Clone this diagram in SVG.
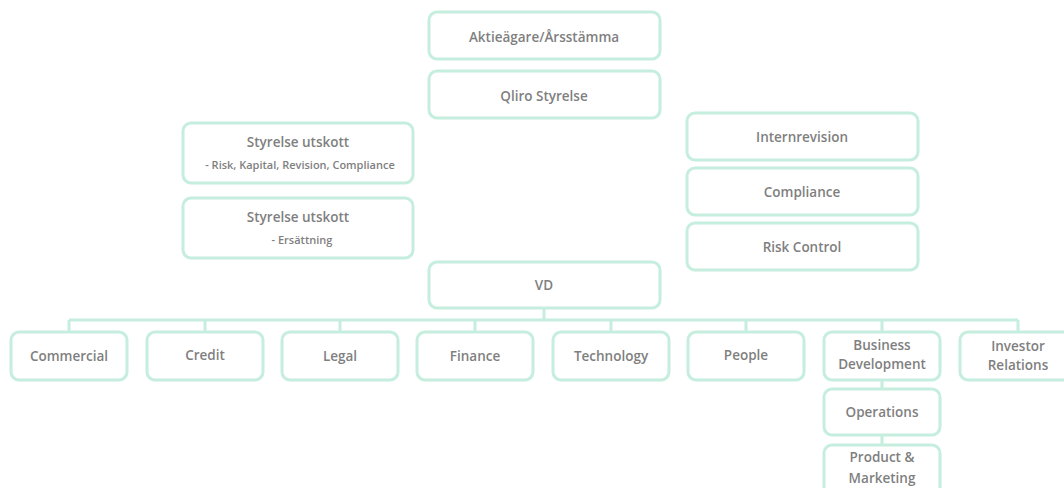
<svg xmlns="http://www.w3.org/2000/svg" width="1064" height="488" viewBox="0 0 1064 488">
<style>
.b{fill:#fff;stroke:#c6eedf;stroke-width:3}
.c{fill:none;stroke:#c6eedf;stroke-width:3}
text{font-family:"Open Sans","Liberation Sans",sans-serif;font-weight:600;fill:#7f7f7f;text-anchor:middle;font-size:13.5px}
.s{font-size:11px}
</style>
<rect width="1064" height="488" fill="#fff"/>
<g id="connectors">
<path class="c" d="M544 308V320M69 320H1018M69 320V332M205 320V332M340 320V332M475 320V332M611 320V332M746 320V332M882 320V332M1018 320V332M882 380V389M882 435V445"/>
</g>
<g id="n-aktie"><rect class="b" x="429" y="12" width="231" height="47" rx="8"/><text x="544" y="42">Aktieägare/Årsstämma</text></g>
<g id="n-qliro"><rect class="b" x="429" y="71" width="231" height="47" rx="8"/><text x="544" y="101">Qliro Styrelse</text></g>
<g id="n-utskott1"><rect class="b" x="183" y="123" width="230" height="60" rx="8"/><text x="298" y="147">Styrelse utskott</text><text class="s" x="300" y="169">- Risk, Kapital,  Revision, Compliance</text></g>
<g id="n-utskott2"><rect class="b" x="183" y="198" width="230" height="60" rx="8"/><text x="298" y="222">Styrelse utskott</text><text class="s" x="302" y="244">- Ersättning</text></g>
<g id="n-internrevision"><rect class="b" x="687" y="113" width="231" height="47" rx="8"/><text x="802" y="142">Internrevision</text></g>
<g id="n-compliance"><rect class="b" x="687" y="168" width="231" height="47" rx="8"/><text x="802" y="197">Compliance</text></g>
<g id="n-risk"><rect class="b" x="687" y="223" width="231" height="47" rx="8"/><text x="802" y="252">Risk Control</text></g>
<g id="n-vd"><rect class="b" x="429" y="262" width="231" height="46" rx="8"/><text x="544" y="290">VD</text></g>
<g id="n-commercial"><rect class="b" x="11" y="332" width="116" height="48" rx="8"/><text x="69" y="361">Commercial</text></g>
<g id="n-credit"><rect class="b" x="147" y="332" width="116" height="48" rx="8"/><text x="205" y="360">Credit</text></g>
<g id="n-legal"><rect class="b" x="282" y="332" width="116" height="48" rx="8"/><text x="340" y="361">Legal</text></g>
<g id="n-finance"><rect class="b" x="417" y="332" width="116" height="48" rx="8"/><text x="475" y="361">Finance</text></g>
<g id="n-technology"><rect class="b" x="553" y="332" width="116" height="48" rx="8"/><text x="611" y="361">Technology</text></g>
<g id="n-people"><rect class="b" x="688" y="332" width="116" height="48" rx="8"/><text x="746" y="360">People</text></g>
<g id="n-bizdev"><rect class="b" x="824" y="332" width="116" height="48" rx="8"/><text x="882" y="350">Business</text><text x="882" y="369">Development</text></g>
<g id="n-investor"><rect class="b" x="960" y="332" width="116" height="48" rx="8"/><text x="1018" y="351">Investor</text><text x="1018" y="370">Relations</text></g>
<g id="n-operations"><rect class="b" x="824" y="389" width="116" height="46" rx="8"/><text x="882" y="417">Operations</text></g>
<g id="n-product"><rect class="b" x="824" y="445" width="116" height="56" rx="8"/><text x="882" y="462">Product &amp;</text><text x="882" y="483">Marketing</text></g>
</svg>
